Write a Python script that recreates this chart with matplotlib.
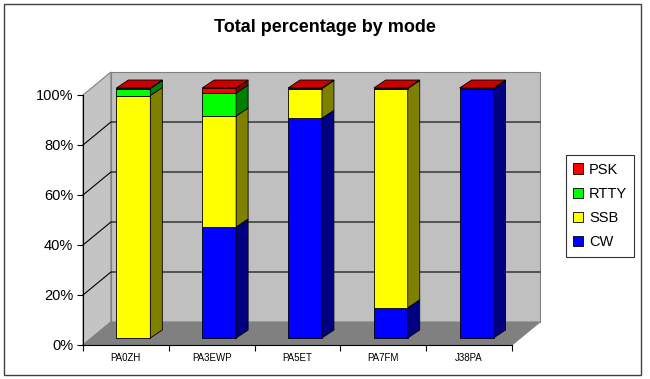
import numpy as np
import matplotlib.pyplot as plt
from matplotlib.patches import Polygon, Patch, Rectangle

plt.rcParams['font.family'] = ['Liberation Sans', 'DejaVu Sans']

categories = ['PA0ZH', 'PA3EWP', 'PA5ET', 'PA7FM', 'J38PA']
cw = [0.0, 44.4, 87.9, 12.1, 99.6]
ssb = [97.0, 44.4, 11.9, 87.7, 0.0]
rtty = [2.8, 9.2, 0.0, 0.0, 0.0]
psk = [0.2, 2.0, 0.2, 0.2, 0.4]

series = [('CW', cw), ('SSB', ssb), ('RTTY', rtty), ('PSK', psk)]
front = {'CW': '#0000ff', 'SSB': '#ffff00', 'RTTY': '#00ff00', 'PSK': '#ff0000'}
side = {'CW': '#000080', 'SSB': '#808000', 'RTTY': '#008000', 'PSK': '#800000'}
top = {'CW': '#0000c8', 'SSB': '#c8c800', 'RTTY': '#00c800', 'PSK': '#c80000'}

# pixel -> data units (front plane: 86 px per category, 250 px for 100%)
px_x = 1 / 86
px_y = 100 / 250
wall_dx, wall_dy = 28 * px_x, 23 * px_y
off_x, off_y = 7.5 * px_x, 7 * px_y
dep_x, dep_y = 12 * px_x, 8 * px_y
bar_w = 34 * px_x

fig = plt.figure(figsize=(6.5, 3.79), dpi=100)
ax = fig.add_axes([83 / 650, 1 - 345 / 379, 429 / 650, 250 / 379])
ax.set_xlim(-0.5, len(categories) - 0.5)
ax.set_ylim(0, 100)
ax.patch.set_visible(False)

x0, x1 = -0.5, len(categories) - 0.5
wall_kw = dict(edgecolor='#808080', lw=0.8, clip_on=False, zorder=0)
ax.add_patch(Polygon([(x0, 0), (x0, 100), (x0 + wall_dx, 100 + wall_dy), (x0 + wall_dx, wall_dy)],
                     facecolor='#c4c4c4', **wall_kw))
ax.add_patch(Polygon([(x0 + wall_dx, wall_dy), (x0 + wall_dx, 100 + wall_dy),
                      (x1 + wall_dx, 100 + wall_dy), (x1 + wall_dx, wall_dy)],
                     facecolor='#c0c0c0', **wall_kw))
ax.add_patch(Polygon([(x0, 0), (x1, 0), (x1 + wall_dx, wall_dy), (x0 + wall_dx, wall_dy)],
                     facecolor='#808080', **wall_kw))

for v in range(20, 100, 20):
    ax.plot([x0, x0 + wall_dx, x1 + wall_dx], [v, v + wall_dy, v + wall_dy],
            color='black', lw=0.8, clip_on=False, zorder=1)

x = np.arange(len(categories)) + off_x
cum = np.zeros(len(categories))
for name, vals in series:
    vals = np.array(vals)
    bars = ax.bar(x, vals, width=bar_w, bottom=cum + off_y, color=front[name],
                  edgecolor='black', lw=0.6, zorder=3)
    for b in bars:
        b.set_clip_on(False)
    for i in range(len(categories)):
        if vals[i] <= 0:
            continue
        xr = x[i] + bar_w / 2
        b = cum[i] + off_y
        t = b + vals[i]
        ax.add_patch(Polygon([(xr, b), (xr + dep_x, b + dep_y), (xr + dep_x, t + dep_y), (xr, t)],
                             facecolor=side[name], edgecolor='black', lw=0.6,
                             clip_on=False, zorder=3))
    cum += vals

# top faces, coloured by the topmost non-empty series
for i in range(len(categories)):
    name = [n for n, v in series if v[i] > 0][-1]
    xl, xr = x[i] - bar_w / 2, x[i] + bar_w / 2
    t = cum[i] + off_y
    ax.add_patch(Polygon([(xl, t), (xl + dep_x, t + dep_y), (xr + dep_x, t + dep_y), (xr, t)],
                         facecolor=top[name], edgecolor='black', lw=0.6, clip_on=False, zorder=3))

for s in ['top', 'right']:
    ax.spines[s].set_visible(False)
for s in ['left', 'bottom']:
    ax.spines[s].set_linewidth(0.8)
    ax.spines[s].set_zorder(4)

ax.set_yticks(range(0, 101, 20))
ax.set_yticklabels([f'{v}%' for v in range(0, 101, 20)])
ax.tick_params(axis='y', length=4, width=0.8, labelsize=10.5, pad=3)
ax.set_xticks(np.arange(-0.5, len(categories), 1))
ax.set_xticklabels([])
ax.set_xticks(np.arange(len(categories)), minor=True)
ax.set_xticklabels(categories, minor=True)
ax.tick_params(axis='x', which='major', length=4, width=0.8)
ax.tick_params(axis='x', which='minor', length=0, labelsize=7, pad=6)

fig.text(325 / 650, 1 - 28 / 379, 'Total percentage by mode', ha='center', va='center',
         fontsize=13, fontweight='bold')

handles = [Patch(facecolor=front[n], edgecolor='black', lw=0.6) for n, _ in series[::-1]]
labels = [n for n, _ in series[::-1]]
leg = fig.legend(handles, labels, loc='center', bbox_to_anchor=(600 / 650, 1 - 206 / 379),
                 frameon=True, fancybox=False, edgecolor='black', fontsize=10.5,
                 handlelength=0.7, handleheight=0.7, handletextpad=0.4,
                 labelspacing=0.7, borderpad=0.5)
leg.get_frame().set_linewidth(0.8)

fig.add_artist(Rectangle((4 / 650, 1 - 375 / 379), 637 / 650, 371 / 379, fill=False,
                         edgecolor='#404040', lw=1, transform=fig.transFigure))

fig.savefig('out.png', dpi=100)
